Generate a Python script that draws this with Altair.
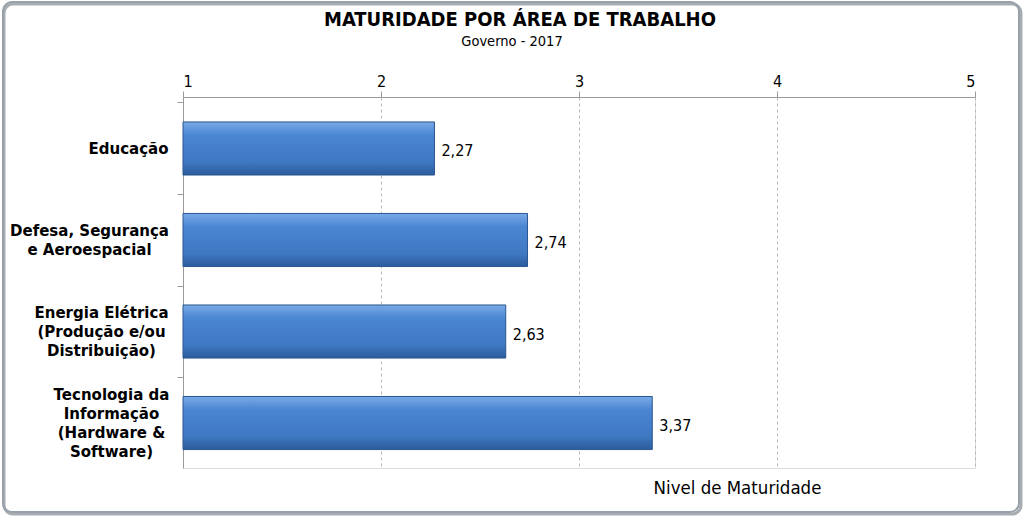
import altair as alt
import pandas as pd

categories = [
    "Educação",
    "Defesa, Segurança\ne Aeroespacial",
    "Energia Elétrica\n(Produção e/ou\nDistribuição)",
    "Tecnologia da\nInformação\n(Hardware &\nSoftware)",
]
values = [2.27, 2.74, 2.63, 3.37]
value_labels = ["2,27", "2,74", "2,63", "3,37"]
x_ticks = [1, 2, 3, 4, 5]
title_text = "MATURIDADE POR ÁREA DE TRABALHO"
subtitle_text = "Governo - 2017"

df = pd.DataFrame({"cat": categories, "val": values, "lab": value_labels})

W, H = 792, 371
LINE_H = 19
TICK_OFF = -46
# label paddings so each centred multi-line block ends near the same right edge
label_pads = [49, 88, 76, 66]

offset_conditions = []
pad_conditions = []
for c, p in zip(categories, label_pads):
    n = c.count("\n") + 1
    safe = c.replace("\n", "\\n")
    test = f"datum.value == '{safe}'"
    offset_conditions.append({"test": test, "value": -TICK_OFF - (n - 1) * LINE_H / 2})
    pad_conditions.append({"test": test, "value": p})
label_offset = {"condition": offset_conditions, "value": -TICK_OFF}
label_padding = {"condition": pad_conditions, "value": 9}

gradient = alt.Gradient(
    gradient="linear", x1=0, y1=0, x2=0, y2=1,
    stops=[
        alt.GradientStop(color="#7aaae6", offset=0),
        alt.GradientStop(color="#4a86d2", offset=0.25),
        alt.GradientStop(color="#3f78c2", offset=0.75),
        alt.GradientStop(color="#2c5c9c", offset=1),
    ],
)

xscale = alt.Scale(domain=[1, 5], nice=False, zero=False)
yscale = alt.Scale(domain=categories, paddingInner=0.42, paddingOuter=0.237, align=0.575)

one = "datum.cat == 'Educação'"

shadow = alt.Chart(df).mark_rect(
    fillOpacity=0, stroke="#6f7782", strokeWidth=3, cornerRadius=9, clip=False, opacity=0.6
).encode(
    x=alt.value(-179), x2=alt.value(838), y=alt.value(-93), y2=alt.value(417)
).transform_filter(one)

frame = alt.Chart(df).mark_rect(
    fillOpacity=0, stroke="#98a0aa", strokeWidth=2, cornerRadius=9, clip=False
).encode(
    x=alt.value(-180), x2=alt.value(836), y=alt.value(-95), y2=alt.value(415)
).transform_filter(one)

title = alt.Chart(df).mark_text(
    text=title_text, font="DejaVu Sans Condensed", fontSize=20, fontWeight="bold",
    color="#000", align="center", baseline="middle", clip=False
).encode(x=alt.value(337), y=alt.value(-77)).transform_filter(one)

subtitle = alt.Chart(df).mark_text(
    text=subtitle_text, font="DejaVu Sans Condensed", fontSize=14.5,
    color="#000", align="center", baseline="middle", clip=False
).encode(x=alt.value(329), y=alt.value(-55)).transform_filter(one)

bars = alt.Chart(df).mark_bar(
    color=gradient, stroke="#2a568f", strokeWidth=1
).encode(
    x=alt.X("val:Q", scale=xscale,
            axis=alt.Axis(orient="top", values=x_ticks, format="d", title=None,
                          grid=True, gridDash=[3, 3], gridColor="#b8b8b8",
                          domainColor="#9a9a9a", tickColor="#9a9a9a", tickSize=6,
                          labelFont="DejaVu Sans Condensed", labelFontSize=16,
                          labelColor="#000", labelPadding=2)),
    x2=alt.datum(1),
    y=alt.Y("cat:N", scale=yscale, sort=categories,
            axis=alt.Axis(title=None, labelExpr="split(datum.label, '\\n')",
                          labelFont="DejaVu Sans", labelFontWeight="bold",
                          labelFontSize=15, labelColor="#000", labelLineHeight=LINE_H,
                          labelPadding=label_padding, labelAlign="center",
                          labelBaseline="middle", labelOffset=label_offset,
                          domainColor="#9a9a9a", tickColor="#9a9a9a",
                          tickOffset=TICK_OFF, tickSize=6, grid=False, labelLimit=300)),
)

texts = alt.Chart(df).mark_text(
    align="left", baseline="middle", dx=7, dy=3, fontSize=16,
    font="DejaVu Sans Condensed", color="#000"
).encode(
    x=alt.X("val:Q", scale=xscale,
            axis=alt.Axis(orient="bottom", labels=False, ticks=False, domain=False,
                          grid=False, title="Nivel de Maturidade", titleX=554,
                          titleAlign="center", titleFontSize=18.5,
                          titleFont="DejaVu Sans Condensed", titleFontWeight="normal",
                          titleColor="#000", titlePadding=10)),
    y=alt.Y("cat:N", scale=yscale, sort=categories),
    text="lab:N",
)

chart = alt.layer(shadow, frame, title, subtitle, bars, texts).properties(
    width=W, height=H,
    autosize=alt.AutoSizeParams(type="none"),
    padding={"left": 183, "top": 97, "right": 48, "bottom": 49},
).configure_view(stroke=None).configure(background="white")

chart.save("out.html", embed_options={"renderer": "svg", "actions": False})
